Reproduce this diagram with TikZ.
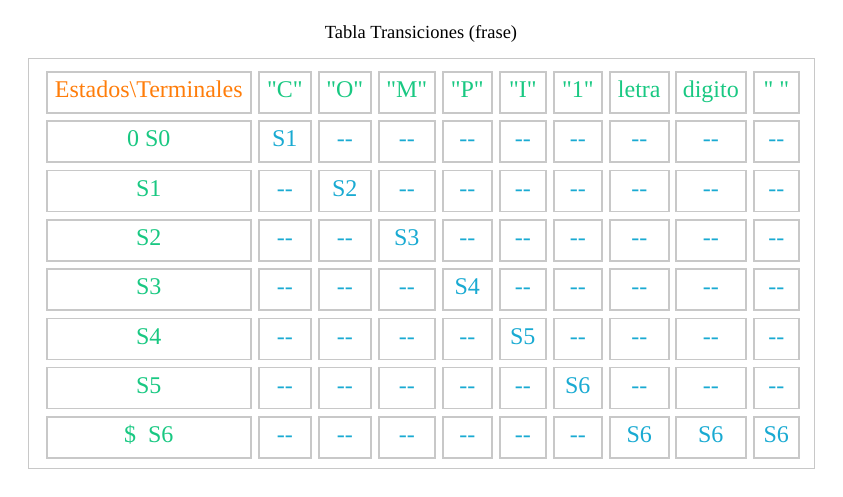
\documentclass[tikz,border=0pt]{standalone}
\usepackage{fontspec}
\setmainfont{Liberation Serif}
\definecolor{orangeT}{RGB}{255,125,10}
\definecolor{greenT}{RGB}{25,200,130}
\definecolor{cyanT}{RGB}{25,170,210}
\definecolor{gridT}{RGB}{200,200,200}
\newcommand\dd{-\kern0pt-}
\newcommand\qq{\textquotedbl}
\def\colL{{46,258,318,378,442,499,553,609,675,753}}
\def\colR{{250,310,370,434,491,545,601,668,745,798}}
\tikzset{
  cellbox/.style={draw=gridT, line width=1.6pt, rectangle, inner sep=0pt,
    minimum height=41pt, text height=25.7pt, text depth=15.3pt,
    font=\fontsize{24}{28}\selectfont, anchor=north west},
  hdr/.style={text=orangeT},
  grn/.style={text=greenT},
  cyn/.style={text=cyanT},
  ttl/.style={font=\fontsize{18.5}{22}\selectfont, anchor=base, inner sep=0pt},
  outer/.style={draw=gridT, line width=1.4pt}
}
\newcommand\tcell[4]{%
  \pgfmathsetmacro\cellL{\colL[#2]}%
  \pgfmathsetmacro\cellR{\colR[#2]}%
  \pgfmathsetmacro\cellT{71+49.3*#1}%
  \node[cellbox,#3,minimum width=\cellR pt-\cellL pt] (r#1c#2) at (\cellL,\cellT) {#4};%
}
\begin{document}
\begin{tikzpicture}[x=1pt,y=-1pt]
\useasboundingbox (0,0) rectangle (843,496);
\node[ttl] (title) at (421,38.3) {Tabla Transiciones (frase)};
\node[outer, rectangle, inner sep=0pt, minimum width=786pt, minimum height=410pt, anchor=north west] (frame) at (28,58) {};
% header
\tcell{0}{0}{hdr}{Estados\textbackslash Terminales}
\tcell{0}{1}{grn}{\qq C\qq}
\tcell{0}{2}{grn}{\qq O\qq}
\tcell{0}{3}{grn}{\qq M\qq}
\tcell{0}{4}{grn}{\qq P\qq}
\tcell{0}{5}{grn}{\qq I\qq}
\tcell{0}{6}{grn}{\qq 1\qq}
\tcell{0}{7}{grn}{letra}
\tcell{0}{8}{grn}{digito}
\tcell{0}{9}{grn}{\qq\ \qq}
% row 1
\tcell{1}{0}{grn}{0 S0}
\tcell{1}{1}{cyn}{S1}
\tcell{1}{2}{cyn}{\dd}
\tcell{1}{3}{cyn}{\dd}
\tcell{1}{4}{cyn}{\dd}
\tcell{1}{5}{cyn}{\dd}
\tcell{1}{6}{cyn}{\dd}
\tcell{1}{7}{cyn}{\dd}
\tcell{1}{8}{cyn}{\dd}
\tcell{1}{9}{cyn}{\dd}
% row 2
\tcell{2}{0}{grn}{S1}
\tcell{2}{1}{cyn}{\dd}
\tcell{2}{2}{cyn}{S2}
\tcell{2}{3}{cyn}{\dd}
\tcell{2}{4}{cyn}{\dd}
\tcell{2}{5}{cyn}{\dd}
\tcell{2}{6}{cyn}{\dd}
\tcell{2}{7}{cyn}{\dd}
\tcell{2}{8}{cyn}{\dd}
\tcell{2}{9}{cyn}{\dd}
% row 3
\tcell{3}{0}{grn}{S2}
\tcell{3}{1}{cyn}{\dd}
\tcell{3}{2}{cyn}{\dd}
\tcell{3}{3}{cyn}{S3}
\tcell{3}{4}{cyn}{\dd}
\tcell{3}{5}{cyn}{\dd}
\tcell{3}{6}{cyn}{\dd}
\tcell{3}{7}{cyn}{\dd}
\tcell{3}{8}{cyn}{\dd}
\tcell{3}{9}{cyn}{\dd}
% row 4
\tcell{4}{0}{grn}{S3}
\tcell{4}{1}{cyn}{\dd}
\tcell{4}{2}{cyn}{\dd}
\tcell{4}{3}{cyn}{\dd}
\tcell{4}{4}{cyn}{S4}
\tcell{4}{5}{cyn}{\dd}
\tcell{4}{6}{cyn}{\dd}
\tcell{4}{7}{cyn}{\dd}
\tcell{4}{8}{cyn}{\dd}
\tcell{4}{9}{cyn}{\dd}
% row 5
\tcell{5}{0}{grn}{S4}
\tcell{5}{1}{cyn}{\dd}
\tcell{5}{2}{cyn}{\dd}
\tcell{5}{3}{cyn}{\dd}
\tcell{5}{4}{cyn}{\dd}
\tcell{5}{5}{cyn}{S5}
\tcell{5}{6}{cyn}{\dd}
\tcell{5}{7}{cyn}{\dd}
\tcell{5}{8}{cyn}{\dd}
\tcell{5}{9}{cyn}{\dd}
% row 6
\tcell{6}{0}{grn}{S5}
\tcell{6}{1}{cyn}{\dd}
\tcell{6}{2}{cyn}{\dd}
\tcell{6}{3}{cyn}{\dd}
\tcell{6}{4}{cyn}{\dd}
\tcell{6}{5}{cyn}{\dd}
\tcell{6}{6}{cyn}{S6}
\tcell{6}{7}{cyn}{\dd}
\tcell{6}{8}{cyn}{\dd}
\tcell{6}{9}{cyn}{\dd}
% row 7
\tcell{7}{0}{grn}{\$~~S6}
\tcell{7}{1}{cyn}{\dd}
\tcell{7}{2}{cyn}{\dd}
\tcell{7}{3}{cyn}{\dd}
\tcell{7}{4}{cyn}{\dd}
\tcell{7}{5}{cyn}{\dd}
\tcell{7}{6}{cyn}{\dd}
\tcell{7}{7}{cyn}{S6}
\tcell{7}{8}{cyn}{S6}
\tcell{7}{9}{cyn}{S6}
\end{tikzpicture}
\end{document}
